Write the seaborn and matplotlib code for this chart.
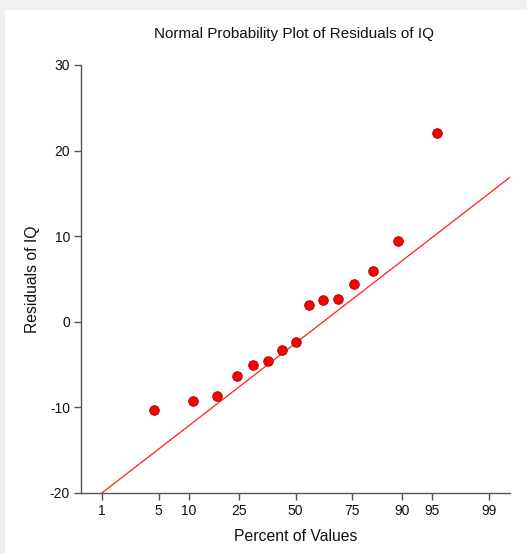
import numpy as np
import pandas as pd
import matplotlib
matplotlib.use("Agg")
import matplotlib.pyplot as plt
from matplotlib.patches import Rectangle
import seaborn as sns
from statistics import NormalDist

# ---- data ----
percent = [4.4, 11.0, 17.4, 24.0, 30.5, 37.0, 43.4, 50.0, 56.5, 63.0, 69.5, 76.0, 82.5, 89.0, 95.6]
residual = [-10.3, -9.2, -8.7, -6.3, -5.1, -4.6, -3.3, -2.4, 2.0, 2.6, 2.7, 4.4, 5.9, 9.4, 22.1]
tick_percent = [1, 5, 10, 25, 50, 75, 90, 95, 99]
tick_labels = ["1", "5", "10", "25", "50", "75", "90", "95", "99"]
line_intercept = -2.5   # residual at 50%
line_slope = 7.52       # residual per normal z unit

sns.set_theme(style="white")
plt.rcParams["font.family"] = ["Liberation Sans", "DejaVu Sans"]
plt.rcParams["axes.unicode_minus"] = False

nd = NormalDist()
_ppf = np.vectorize(lambda p: nd.inv_cdf(min(max(p / 100.0, 1e-9), 1 - 1e-9)), otypes=[float])
_cdf = np.vectorize(lambda z: nd.cdf(z) * 100.0, otypes=[float])

def fwd(p):
    return _ppf(np.asarray(p, dtype=float))

def inv(z):
    return _cdf(np.asarray(z, dtype=float))

fig = plt.figure(figsize=(5.27, 5.54), dpi=100)
fig.patch.set_facecolor("#f0f0f0")
fig.patches.append(Rectangle((5 / 527, 0), 1, 1 - 10 / 554, transform=fig.transFigure,
                             facecolor="white", edgecolor="none", zorder=-10))

ax = fig.add_axes([81 / 527, 1 - 493 / 554, (510 - 81) / 527, (493 - 65) / 554])
ax.set_facecolor("white")
ax.set_xscale("function", functions=(fwd, inv))

df = pd.DataFrame({"percent": percent, "residual": residual})

lo, hi = 0.497, 99.503
line_x = [lo, hi]
line_y = [line_intercept + line_slope * nd.inv_cdf(v / 100) for v in line_x]
ax.plot(line_x, line_y, color="#ff2020", lw=0.9, zorder=2)

sns.scatterplot(data=df, x="percent", y="residual", ax=ax, color="#ff0000",
                edgecolor="#a00000", linewidth=0.6, s=48, zorder=3, legend=False)

ax.set_xlim(lo, hi)
ax.set_ylim(-20, 30)
ax.set_xticks(tick_percent)
ax.set_xticklabels(tick_labels)
ax.set_yticks([-20, -10, 0, 10, 20, 30])
ax.minorticks_off()

for s in ["top", "right"]:
    ax.spines[s].set_visible(False)
for s in ["left", "bottom"]:
    ax.spines[s].set_color("#555555")
    ax.spines[s].set_linewidth(1.0)

ax.tick_params(axis="both", which="major", direction="out", length=5, width=1,
               color="#555555", labelsize=10, labelcolor="#111111", left=True, bottom=True)
ax.tick_params(axis="x", pad=3)
ax.tick_params(axis="y", pad=3)

ax.set_xlabel("Percent of Values", fontsize=11.3, color="#111111", labelpad=8)
ax.set_ylabel("Residuals of IQ", fontsize=11.3, color="#111111", labelpad=7)
fig.text(294 / 527, 1 - 34 / 554, "Normal Probability Plot of Residuals of IQ",
         ha="center", va="center", fontsize=11, color="#111111")

fig.savefig("out.png", dpi=100, facecolor=fig.get_facecolor())
